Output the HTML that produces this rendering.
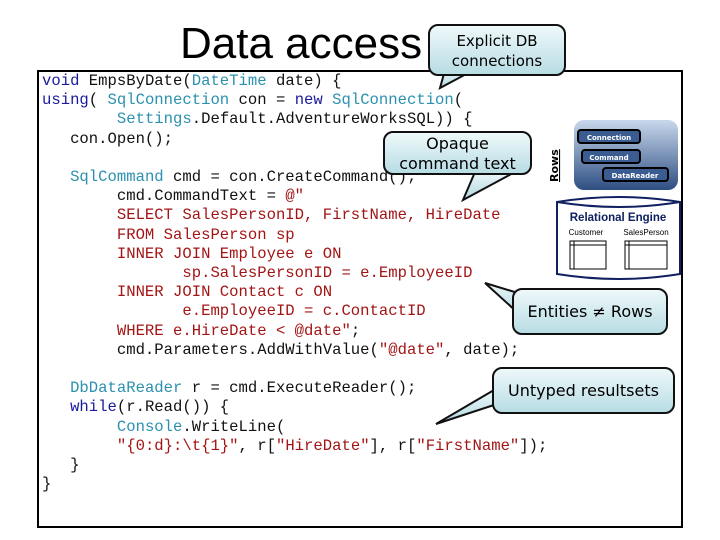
<!DOCTYPE html>
<html><head><meta charset="utf-8"><style>
body{margin:0;width:720px;height:540px;background:#fff;position:relative;overflow:hidden;font-family:"Liberation Sans",sans-serif}
.title{position:absolute;left:180px;top:18px;font-size:44px;color:#000;line-height:52px}
.box{position:absolute;left:37px;top:70px;width:646px;height:458px;border:2px solid #000;box-sizing:border-box}
pre{position:absolute;left:42px;top:72px;margin:0;font-family:"Liberation Mono",monospace;font-size:15.6px;line-height:19.2px;color:#111}
.k{color:#1a1a9c}.t{color:#2b91af}.s{color:#a31515}
.call{position:absolute;border:2px solid #111;border-radius:10px;background:linear-gradient(#eef8fa,#b8dde4);font-family:"DejaVu Sans",sans-serif;color:#000;text-align:center;box-sizing:border-box}
svg{position:absolute;left:0;top:0}
</style></head><body>
<div class="title">Data access</div>
<div class="box"></div>
<pre><span class="k">void</span> EmpsByDate(<span class="t">DateTime</span> date) {
<span class="k">using</span>( <span class="t">SqlConnection</span> con = <span class="k">new</span> <span class="t">SqlConnection</span>(
        <span class="t">Settings</span>.Default.AdventureWorksSQL)) {
   con.Open();

   <span class="t">SqlCommand</span> cmd = con.CreateCommand();
        cmd.CommandText = <span class="s">@"</span>
<span class="s">        SELECT SalesPersonID, FirstName, HireDate
        FROM SalesPerson sp
        INNER JOIN Employee e ON
               sp.SalesPersonID = e.EmployeeID
        INNER JOIN Contact c ON
               e.EmployeeID = c.ContactID
        WHERE e.HireDate &lt; @date"</span>;
        cmd.Parameters.AddWithValue(<span class="s">"@date"</span>, date);

   <span class="t">DbDataReader</span> r = cmd.ExecuteReader();
   <span class="k">while</span>(r.Read()) {
        <span class="t">Console</span>.WriteLine(
        <span class="s">"{0:d}:\t{1}"</span>, r[<span class="s">"HireDate"</span>], r[<span class="s">"FirstName"</span>]);
   }
}</pre>
<svg width="720" height="540">
<defs><linearGradient id="g" x1="0" y1="0" x2="0" y2="1"><stop offset="0" stop-color="#eef8fa"/><stop offset="1" stop-color="#b0d8e0"/></linearGradient>
<linearGradient id="b" x1="0" y1="0" x2="0" y2="1"><stop offset="0" stop-color="#c8d8ec"/><stop offset="1" stop-color="#2e4e82"/></linearGradient></defs>
<polygon points="445,70 470,72 440,88" fill="url(#g)" stroke="#111" stroke-width="2"/>
<polygon points="475,172 515,172 463,200" fill="url(#g)" stroke="#111" stroke-width="2"/>
<polygon points="518,293 518,313 485,283" fill="url(#g)" stroke="#111" stroke-width="2"/>
<polygon points="494,390 494,405 436,424" fill="url(#g)" stroke="#111" stroke-width="2"/>
<text x="0" y="0" transform="translate(558,182) rotate(-90)" font-family="DejaVu Sans" font-size="11" font-weight="bold" text-decoration="underline">Rows</text>
<rect x="574" y="120" width="104" height="70" rx="10" fill="url(#b)"/>
<rect x="578" y="130" width="62" height="13" rx="3" fill="#3a5c90" stroke="#000" stroke-width="2"/>
<text x="609" y="140" text-anchor="middle" font-size="7" font-weight="bold" fill="#fff" font-family="DejaVu Sans">Connection</text>
<rect x="582" y="150" width="58" height="13" rx="3" fill="#3a5c90" stroke="#000" stroke-width="2"/>
<text x="609" y="160" text-anchor="middle" font-size="7" font-weight="bold" fill="#fff" font-family="DejaVu Sans">Command</text>
<rect x="603" y="168" width="65" height="13" rx="3" fill="#3a5c90" stroke="#000" stroke-width="2"/>
<text x="635" y="178" text-anchor="middle" font-size="7" font-weight="bold" fill="#fff" font-family="DejaVu Sans">DataReader</text>
<path d="M557,202 Q619,192 680,202 L680,274 Q619,284 557,274 Z" fill="#fff" stroke="#102060" stroke-width="2"/>
<path d="M557,202 Q619,212 680,202" fill="none" stroke="#102060" stroke-width="2"/>
<text x="618" y="221" text-anchor="middle" font-size="11.5" font-weight="bold" fill="#102060">Relational Engine</text>
<text x="586" y="235" text-anchor="middle" font-size="8" fill="#000">Customer</text>
<text x="646" y="235" text-anchor="middle" font-size="8" fill="#000">SalesPerson</text>
<rect x="570" y="241" width="36" height="28" fill="none" stroke="#000"/><line x1="570" y1="245" x2="606" y2="245" stroke="#000"/><line x1="574" y1="241" x2="574" y2="269" stroke="#000"/>
<rect x="625" y="241" width="42" height="28" fill="none" stroke="#000"/><line x1="625" y1="245" x2="667" y2="245" stroke="#000"/><line x1="629" y1="241" x2="629" y2="269" stroke="#000"/>
</svg>
<div class="call" style="left:428px;top:24px;width:138px;height:52px;font-size:15px;line-height:20px;padding-top:5px">Explicit DB<br>connections</div>
<div class="call" style="left:383px;top:131px;width:149px;height:44px;font-size:16px;line-height:20px;padding-top:1px">Opaque<br>command text</div>
<div class="call" style="left:512px;top:288px;width:156px;height:47px;font-size:16px;line-height:43px">Entities ≠ Rows</div>
<div class="call" style="left:492px;top:367px;width:183px;height:47px;font-size:16px;line-height:43px">Untyped resultsets</div>
</body></html>
